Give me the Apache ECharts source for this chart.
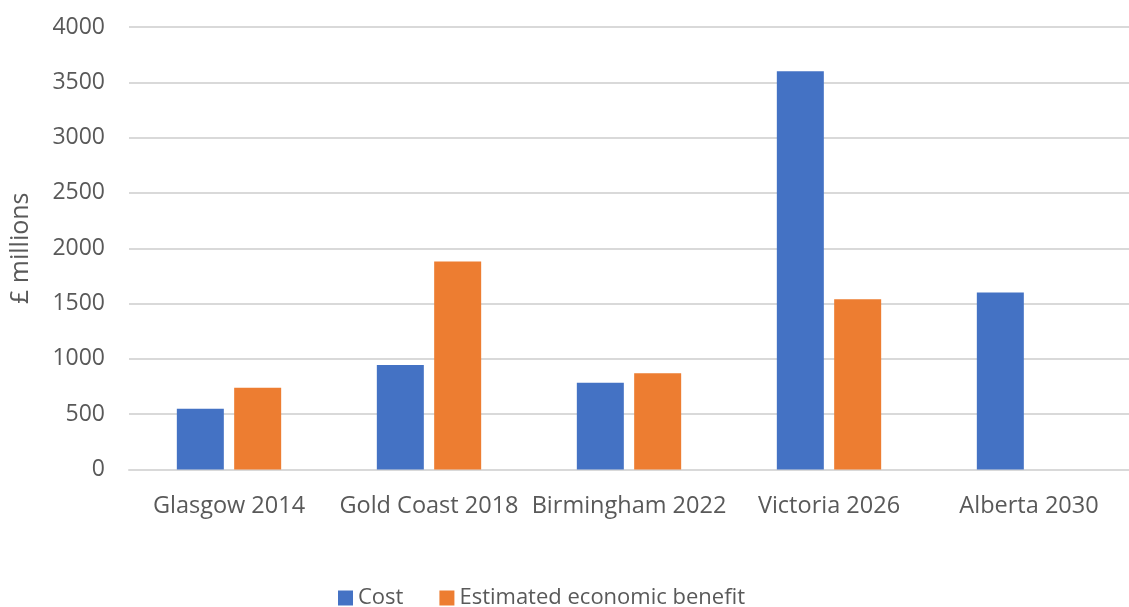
<!DOCTYPE html>
<html>
<head>
<meta charset="utf-8">
<title>Commonwealth Games: cost vs estimated economic benefit</title>
<script src="https://cdn.jsdelivr.net/npm/echarts@6/dist/echarts.min.js"></script>
<style>
  html, body { margin: 0; padding: 0; background: #ffffff; }
  #chart { width: 1129px; height: 607px; }
</style>
</head>
<body>
<div id="chart"></div>
<script>
// Host games and their figures, in £ millions
const categories = ['Glasgow 2014', 'Gold Coast 2018', 'Birmingham 2022', 'Victoria 2026', 'Alberta 2030'];
const costValues = [550, 945, 785, 3600, 1600];
const benefitValues = [740, 1880, 870, 1540, null];
const seriesNames = ['Cost', 'Estimated economic benefit'];
const yAxisTitle = '£ millions';

const FONT = '"Open Sans", "Noto Sans", sans-serif';
const TEXT = '#595959';
const GRID = '#d9d9d9';

const chart = echarts.init(document.getElementById('chart'), null, { renderer: 'canvas' });

chart.setOption({
  animation: false,
  backgroundColor: '#ffffff',
  textStyle: { fontFamily: FONT, color: TEXT },
  grid: { left: 126, top: 27, width: 1008, height: 442.5, containLabel: false },
  legend: {
    left: 333,
    top: 582,
    itemWidth: 15,
    itemHeight: 15,
    itemGap: 36,
    icon: 'rect',
    textStyle: { fontFamily: FONT, fontSize: 22, color: TEXT },
    data: seriesNames
  },
  xAxis: {
    type: 'category',
    data: categories,
    axisLine: { show: true, lineStyle: { color: GRID, width: 2 } },
    axisTick: { show: false },
    axisLabel: { fontFamily: FONT, fontSize: 23.5, color: TEXT, margin: 25, interval: 0 }
  },
  yAxis: {
    type: 'value',
    min: 0,
    max: 4000,
    interval: 500,
    name: yAxisTitle,
    nameLocation: 'middle',
    nameGap: 96,
    nameRotate: 90,
    nameTextStyle: { fontFamily: FONT, fontSize: 25, color: TEXT },
    axisLine: { show: false },
    axisTick: { show: false },
    splitLine: { lineStyle: { color: GRID, width: 2 } },
    axisLabel: {
      fontFamily: FONT, fontSize: 23, color: TEXT, margin: 24,
      formatter: (v) => String(v)
    }
  },
  series: [
    {
      name: seriesNames[0],
      type: 'bar',
      data: costValues,
      barWidth: 47,
      barGap: '22%',
      itemStyle: { color: '#4472C4' }
    },
    {
      name: seriesNames[1],
      type: 'bar',
      data: benefitValues,
      barWidth: 47,
      itemStyle: { color: '#ED7D31' }
    }
  ]
});
</script>
</body>
</html>
